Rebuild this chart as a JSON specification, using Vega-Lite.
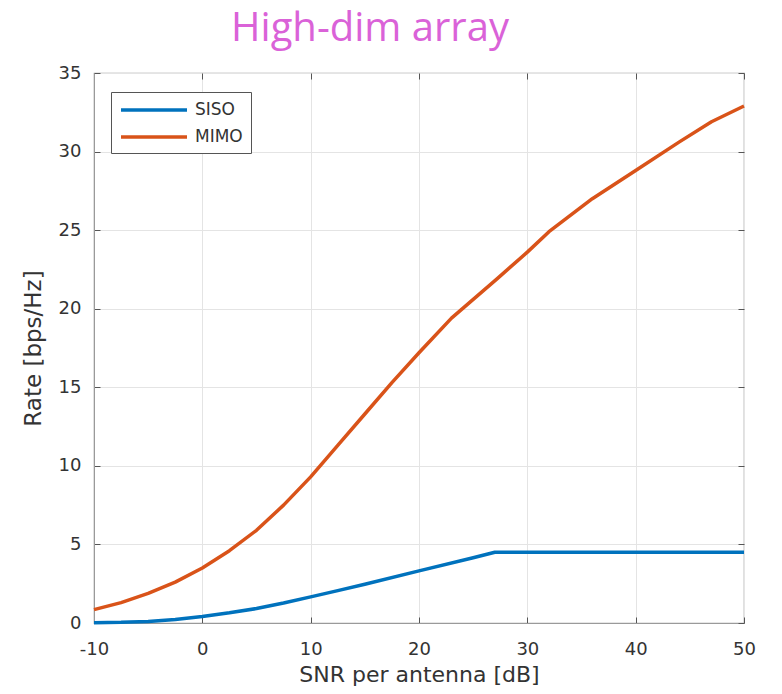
{
  "$schema": "https://vega.github.io/schema/vega-lite/v6.json",
  "width": 650,
  "height": 550,
  "autosize": {"type": "none"},
  "padding": {"left": 94, "top": 73, "right": 38, "bottom": 71},
  "background": "white",
  "title": {
    "text": "High-dim array",
    "font": "Open Sans",
    "fontSize": 40,
    "fontWeight": "normal",
    "color": "#DA62D8",
    "anchor": "middle",
    "dx": -49,
    "baseline": "alphabetic",
    "offset": -17
  },
  "data": {
    "values": [
      {"snr": -10, "rate": 0.02, "scheme": "SISO"},
      {"snr": -7.5, "rate": 0.04, "scheme": "SISO"},
      {"snr": -5, "rate": 0.1, "scheme": "SISO"},
      {"snr": -2.5, "rate": 0.23, "scheme": "SISO"},
      {"snr": 0, "rate": 0.42, "scheme": "SISO"},
      {"snr": 2.5, "rate": 0.65, "scheme": "SISO"},
      {"snr": 5, "rate": 0.92, "scheme": "SISO"},
      {"snr": 7.5, "rate": 1.27, "scheme": "SISO"},
      {"snr": 10, "rate": 1.66, "scheme": "SISO"},
      {"snr": 12.5, "rate": 2.06, "scheme": "SISO"},
      {"snr": 15, "rate": 2.47, "scheme": "SISO"},
      {"snr": 20, "rate": 3.32, "scheme": "SISO"},
      {"snr": 25, "rate": 4.15, "scheme": "SISO"},
      {"snr": 27, "rate": 4.5, "scheme": "SISO"},
      {"snr": 50, "rate": 4.5, "scheme": "SISO"},
      {"snr": -10, "rate": 0.85, "scheme": "MIMO"},
      {"snr": -7.5, "rate": 1.3, "scheme": "MIMO"},
      {"snr": -5, "rate": 1.88, "scheme": "MIMO"},
      {"snr": -2.5, "rate": 2.6, "scheme": "MIMO"},
      {"snr": 0, "rate": 3.5, "scheme": "MIMO"},
      {"snr": 2.5, "rate": 4.6, "scheme": "MIMO"},
      {"snr": 5, "rate": 5.9, "scheme": "MIMO"},
      {"snr": 7.5, "rate": 7.5, "scheme": "MIMO"},
      {"snr": 10, "rate": 9.3, "scheme": "MIMO"},
      {"snr": 12.5, "rate": 11.3, "scheme": "MIMO"},
      {"snr": 15, "rate": 13.3, "scheme": "MIMO"},
      {"snr": 17.5, "rate": 15.3, "scheme": "MIMO"},
      {"snr": 20, "rate": 17.2, "scheme": "MIMO"},
      {"snr": 23, "rate": 19.4, "scheme": "MIMO"},
      {"snr": 27.2, "rate": 21.9, "scheme": "MIMO"},
      {"snr": 30, "rate": 23.6, "scheme": "MIMO"},
      {"snr": 32, "rate": 24.9, "scheme": "MIMO"},
      {"snr": 36, "rate": 27.0, "scheme": "MIMO"},
      {"snr": 40, "rate": 28.8, "scheme": "MIMO"},
      {"snr": 44, "rate": 30.6, "scheme": "MIMO"},
      {"snr": 47, "rate": 31.9, "scheme": "MIMO"},
      {"snr": 50, "rate": 32.9, "scheme": "MIMO"}
    ]
  },
  "layer": [
    {
      "mark": {"type": "line", "strokeWidth": 3.5, "strokeJoin": "round"},
      "encoding": {
        "x": {
          "field": "snr",
          "type": "quantitative",
          "scale": {"domain": [-10, 50], "nice": false, "zero": false},
          "axis": {
            "title": "SNR per antenna [dB]",
            "values": [-10, 0, 10, 20, 30, 40, 50],
            "labelExpr": "datum.value + ''",
            "labelFlush": false,
            "tickSize": -6,
            "labelPadding": 23,
            "titlePadding": 6
          }
        },
        "y": {
          "field": "rate",
          "type": "quantitative",
          "scale": {"domain": [0, 35], "nice": false},
          "axis": {
            "title": "Rate [bps/Hz]",
            "values": [0, 5, 10, 15, 20, 25, 30, 35],
            "labelFlush": false,
            "tickSize": -6,
            "labelPadding": 19,
            "titlePadding": 13,
            "titleFontSize": 23
          }
        },
        "color": {
          "field": "scheme",
          "type": "nominal",
          "sort": ["SISO", "MIMO"],
          "scale": {"domain": ["SISO", "MIMO"], "range": ["#0072BD", "#D95319"]},
          "legend": {
            "title": null,
            "orient": "none",
            "legendX": 17,
            "legendY": 19,
            "symbolType": "M-1,0H7.25",
            "symbolSize": 256,
            "symbolStrokeWidth": 3.5,
            "symbolFillColor": "transparent",
            "labelFont": "DejaVu Sans",
            "labelFontSize": 17,
            "labelColor": "#333333",
            "labelOffset": 56,
            "rowPadding": 9,
            "padding": 8,
            "fillColor": "white",
            "strokeColor": "#555555"
          }
        }
      }
    },
    {
      "mark": {"type": "line", "opacity": 0},
      "encoding": {
        "x": {
          "field": "snr",
          "type": "quantitative",
          "axis": {
            "orient": "top",
            "title": null,
            "labels": false,
            "grid": false,
            "domain": false,
            "values": [-10, 0, 10, 20, 30, 40, 50],
            "tickSize": -6
          }
        },
        "y": {
          "field": "rate",
          "type": "quantitative",
          "axis": {
            "orient": "right",
            "title": null,
            "labels": false,
            "grid": false,
            "domain": false,
            "values": [0, 5, 10, 15, 20, 25, 30, 35],
            "tickSize": -6
          }
        },
        "detail": {"field": "scheme"}
      }
    }
  ],
  "resolve": {"axis": {"x": "independent", "y": "independent"}},
  "config": {
    "view": {"stroke": "#9a9a9a", "strokeWidth": 1.2},
    "axis": {
      "labelFont": "DejaVu Sans",
      "labelFontSize": 18,
      "labelColor": "#333333",
      "titleFont": "DejaVu Sans",
      "titleFontSize": 22,
      "titleFontWeight": "normal",
      "titleColor": "#333333",
      "domainColor": "#9a9a9a",
      "tickColor": "#555555",
      "gridColor": "#e4e4e4",
      "gridWidth": 1,
      "grid": true
    }
  }
}
